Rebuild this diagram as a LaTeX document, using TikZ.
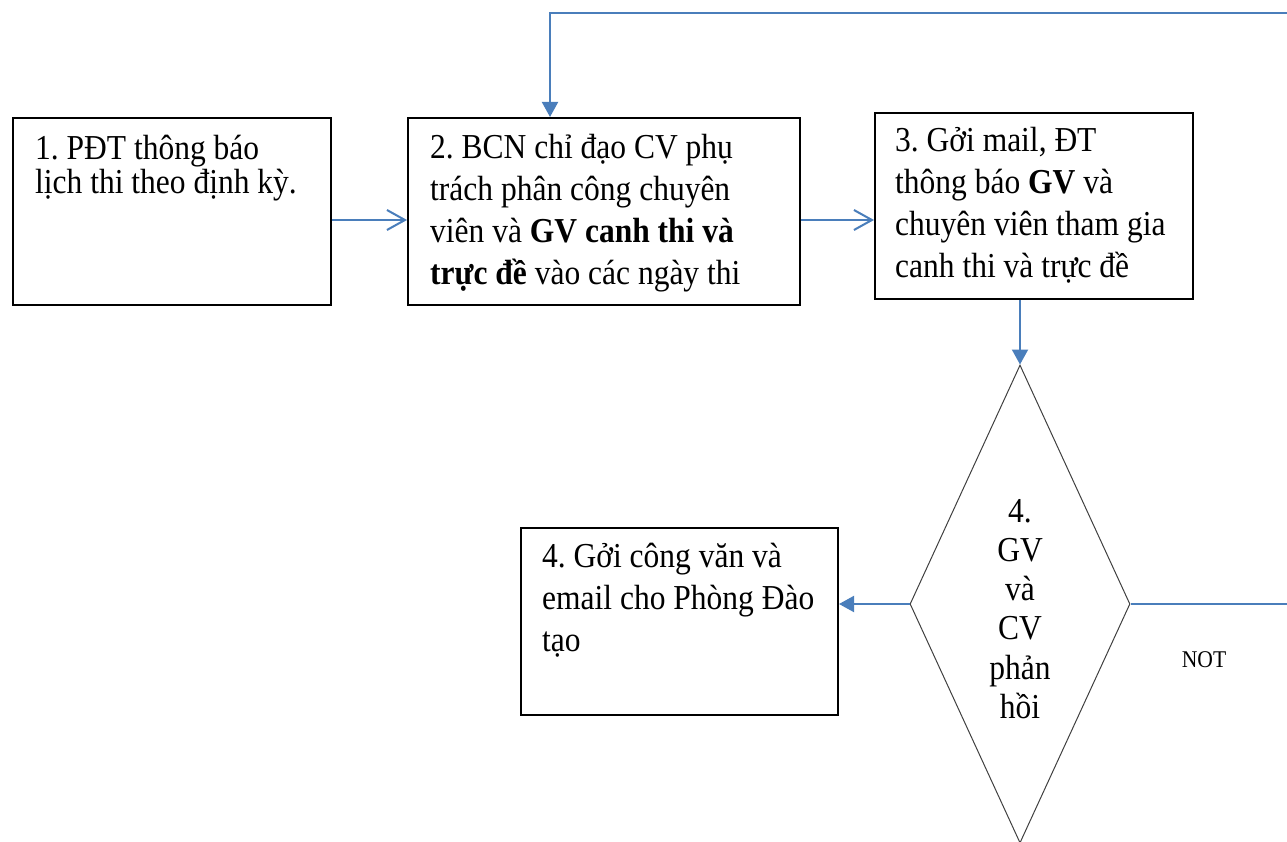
\documentclass[tikz,border=0pt]{standalone}
\usepackage{fontspec}
\setmainfont{Liberation Serif}[FakeStretch=0.9]
\usetikzlibrary{arrows.meta,shapes.geometric,calc}
\definecolor{linkblue}{HTML}{4A7EBB}
\definecolor{diagray}{HTML}{404040}
\tikzset{
  stepbox/.style={draw=black, line width=2pt, inner sep=0pt},
  boxtext/.style={anchor=base west, inner sep=0pt, text width=370pt, align=flush left,
                  font=\fontsize{35}{42}\selectfont\frenchspacing},
  openarrow/.style={draw=linkblue, line width=2pt,
                    -{Straight Barb[length=18pt, width=20pt, line width=2pt]}},
  fillarrow/.style={draw=linkblue, line width=2pt,
                    -{Triangle[length=15pt, width=16pt, fill=linkblue]}},
  plainlink/.style={draw=linkblue, line width=2pt},
}
\begin{document}
\begin{tikzpicture}[x=1pt, y=-1pt]
\useasboundingbox (0,0) rectangle (1287,842);

% process boxes
\node[stepbox, minimum width=318pt, minimum height=187pt] (b1) at (172,211.5) {};
\node[stepbox, minimum width=392pt, minimum height=187pt] (b2) at (604,211.5) {};
\node[stepbox, minimum width=318pt, minimum height=186pt] (b3) at (1034,206) {};
\node[stepbox, minimum width=317pt, minimum height=187pt] (b4) at (679.5,621.5) {};

% decision
\node[diamond, draw=diagray, line width=1pt, inner sep=0pt,
      minimum width=220pt, minimum height=478pt] (d) at (1020,604) {};

% box texts
\node[boxtext, font=\fontsize{35}{34}\selectfont\frenchspacing] (t1) at (35,160)
  {1. PĐT thông báo\\lịch thi theo định kỳ.};
\node[boxtext] (t2) at (430,159)
  {2. BCN chỉ đạo CV phụ\\trách phân công chuyên\\viên và \textbf{GV canh thi và}\\\textbf{trực đề} vào các ngày thi};
\node[boxtext] (t3) at (895,152)
  {3. Gởi mail, ĐT\\thông báo \textbf{GV} và\\chuyên viên tham gia\\canh thi và trực đề};
\node[boxtext] (t4) at (542,567)
  {4. Gởi công văn và\\email cho Phòng Đào\\tạo};
\node[anchor=base, inner sep=0pt, text width=120pt, align=flush center,
      font=\fontsize{35}{39.3}\selectfont] (dt) at (1020,522)
  {4.\\GV\\và\\CV\\phản\\hồi};
\node[anchor=base, inner sep=0pt, font=\fontsize{24}{28}\selectfont] (nt) at (1204,667) {NOT};

% loose ends running off the right edge
\coordinate (loopR) at (1287,13);
\coordinate (loopL) at (550,13);
\coordinate (notR) at (1287,604);

% connectors
\draw[openarrow] ([yshift=-8.5pt]b1.east) -- ([yshift=-8.5pt]b1.east -| b2.west);
\draw[openarrow] ([yshift=-8.5pt]b2.east) -- ([yshift=-8.5pt]b2.east -| b3.west);
\draw[fillarrow] (b3.south -| d.north) -- (d.north);
\draw[fillarrow] (d.west) -- (d.west -| b4.east);
\draw[plainlink] (d.east) -- (notR);
\draw[fillarrow] (loopR) -- (loopL) -- (loopL |- b2.north);
\end{tikzpicture}
\end{document}
